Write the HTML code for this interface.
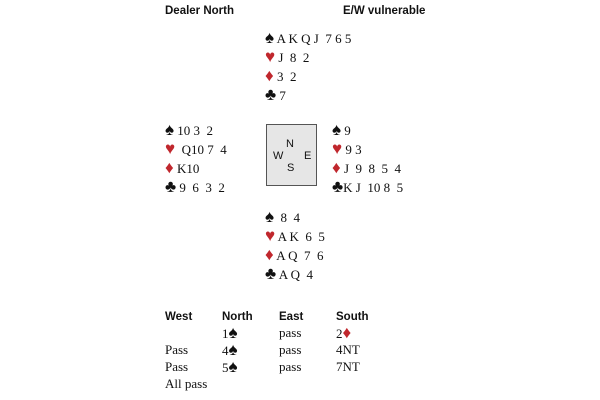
<!DOCTYPE html><html><head><style>
body{margin:0;width:600px;height:400px;background:#fff;position:relative;overflow:hidden;font-family:"Liberation Serif",serif;font-size:13px;color:#111}
div{position:absolute;white-space:pre;line-height:14px}
.h{font-family:"Liberation Sans",sans-serif;font-weight:bold;font-size:11.5px}
.r{color:#c0272d}
.s{font-size:17px;line-height:14px}
</style></head><body>
<div class="h" style="left:165px;top:4px">Dealer North</div>
<div class="h" style="left:343px;top:4px">E/W vulnerable</div>

<div style="left:265px;top:31px"><span class="s">♠</span> A K Q J  7 6 5</div>
<div style="left:265px;top:50px"><span class="s r">♥</span> J  8  2</div>
<div style="left:265px;top:69px"><span class="s r">♦</span> 3  2</div>
<div style="left:265px;top:88px"><span class="s">♣</span> 7</div>

<div style="left:165px;top:123px"><span class="s">♠</span> 10 3  2</div>
<div style="left:165px;top:142px"><span class="s r">♥</span>  Q10 7  4</div>
<div style="left:165px;top:161px"><span class="s r">♦</span> K10</div>
<div style="left:165px;top:180px"><span class="s">♣</span> 9  6  3  2</div>

<div style="left:266px;top:124px;width:49px;height:60px;background:#e6e6e6;border:1px solid #555"></div>
<div class="h" style="left:286px;top:137px;font-weight:normal;font-size:11px">N</div>
<div class="h" style="left:273px;top:149px;font-weight:normal;font-size:11px">W</div>
<div class="h" style="left:304px;top:149px;font-weight:normal;font-size:11px">E</div>
<div class="h" style="left:287px;top:161px;font-weight:normal;font-size:11px">S</div>

<div style="left:332px;top:123px"><span class="s">♠</span> 9</div>
<div style="left:332px;top:142px"><span class="s r">♥</span> 9 3</div>
<div style="left:332px;top:161px"><span class="s r">♦</span> J  9  8  5  4</div>
<div style="left:332px;top:180px"><span class="s">♣</span>K J  10 8  5</div>

<div style="left:265px;top:210px"><span class="s">♠</span>  8  4</div>
<div style="left:265px;top:229px"><span class="s r">♥</span> A K  6  5</div>
<div style="left:265px;top:248px"><span class="s r">♦</span> A Q  7  6</div>
<div style="left:265px;top:267px"><span class="s">♣</span> A Q  4</div>

<div class="h" style="left:165px;top:310px">West</div>
<div class="h" style="left:222px;top:310px">North</div>
<div class="h" style="left:279px;top:310px">East</div>
<div class="h" style="left:336px;top:310px">South</div>
<div style="left:222px;top:326px">1<span class="s">♠</span></div>
<div style="left:279px;top:326px">pass</div>
<div style="left:336px;top:326px">2<span class="s r">♦</span></div>
<div style="left:165px;top:343px">Pass</div>
<div style="left:222px;top:343px">4<span class="s">♠</span></div>
<div style="left:279px;top:343px">pass</div>
<div style="left:336px;top:343px">4NT</div>
<div style="left:165px;top:360px">Pass</div>
<div style="left:222px;top:360px">5<span class="s">♠</span></div>
<div style="left:279px;top:360px">pass</div>
<div style="left:336px;top:360px">7NT</div>
<div style="left:165px;top:377px">All pass</div>
</body></html>
